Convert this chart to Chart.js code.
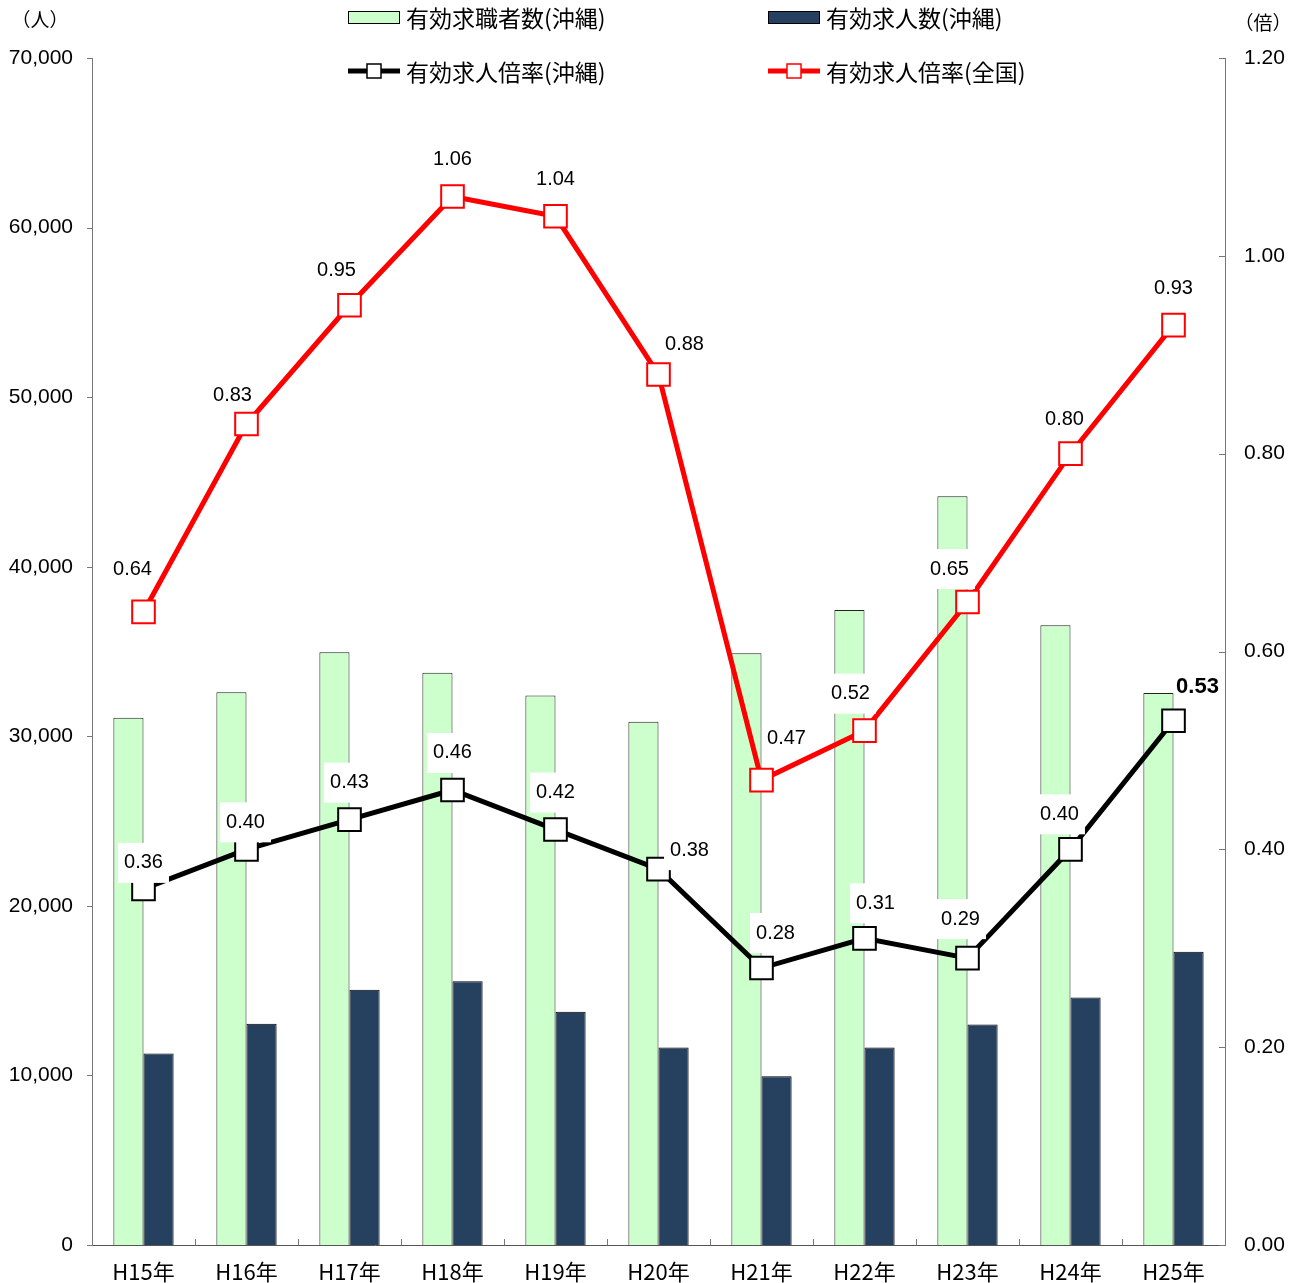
<!DOCTYPE html>
<html lang="ja">
<head>
    <meta charset="UTF-8">
    <title>有効求人倍率</title>
    <script src="https://cdn.jsdelivr.net/npm/chart.js"></script>
    <style>
        body { margin: 0; padding: 0; background: #fff; }
        #wrap { width: 1299px; height: 1283px; }
    </style>
</head>
<body>
    <div id="wrap"><canvas id="myChart" width="1299" height="1283"></canvas></div>

    <script>
        // data
        const years = ['H15年', 'H16年', 'H17年', 'H18年', 'H19年', 'H20年', 'H21年', 'H22年', 'H23年', 'H24年', 'H25年'];
        const seekers = [31100, 32600, 34950, 33750, 32400, 30850, 34900, 37450, 44150, 36550, 32550];   // 有効求職者数（沖縄）
        const offers = [11300, 13050, 15050, 15550, 13750, 11650, 9950, 11650, 13000, 14600, 17300];     // 有効求人数（沖縄）
        const ratioOkinawa = [0.36, 0.40, 0.43, 0.46, 0.42, 0.38, 0.28, 0.31, 0.29, 0.40, 0.53];
        const ratioNational = [0.64, 0.83, 0.95, 1.06, 1.04, 0.88, 0.47, 0.52, 0.65, 0.80, 0.93];
        const leftTicks = [0, 10000, 20000, 30000, 40000, 50000, 60000, 70000];
        const rightTicks = [0, 0.2, 0.4, 0.6, 0.8, 1.0, 1.2];

        // label offsets from each point (px) and whether the label sits on a white box
        const nationalOffsets = [[-11, -42], [-14, -29], [-13, -35], [0, -37], [0, -37], [26, -30], [25, -42], [-14, -37], [-18, -33], [-6, -34], [0, -37]];
        const nationalBoxed = [false, false, false, false, false, false, false, true, true, false, false];
        const okinawaOffsets = [[0, -26], [-1, -27], [0, -37], [0, -37], [0, -37], [31, -19], [14, -35], [11, -35], [-7, -39], [-11, -35], [24, -34]];
        const okinawaBoxed = [true, true, true, true, true, true, true, true, true, true, false];

        const NUM_FONT = '"Liberation Sans", Arial, sans-serif';
        const JP_FONT = '"Noto Sans CJK JP", sans-serif';
        const GREEN = '#ccffcc';
        const NAVY = '#264060';

        const labelsPlugin = {
            id: 'pointLabels',
            afterDatasetsDraw(chart) {
                const ctx = chart.ctx;
                ctx.save();
                ctx.textAlign = 'center';
                ctx.textBaseline = 'middle';
                const sets = [[2, ratioOkinawa, okinawaOffsets, okinawaBoxed], [3, ratioNational, nationalOffsets, nationalBoxed]];
                sets.forEach(([di, vals, offs, boxed]) => {
                    const meta = chart.getDatasetMeta(di);
                    meta.data.forEach((pt, i) => {
                        const x = pt.x + offs[i][0];
                        const y = pt.y + offs[i][1];
                        const bold = (di === 2 && i === vals.length - 1);
                        ctx.font = (bold ? 'bold 22px ' : '20px ') + NUM_FONT;
                        const txt = vals[i].toFixed(2);
                        const w = ctx.measureText(txt).width;
                        if (boxed[i]) {
                            ctx.fillStyle = '#fff';
                            ctx.fillRect(x - w / 2 - 6, y - 20, w + 12, 40);
                        }
                        ctx.fillStyle = '#000';
                        ctx.fillText(txt, x, y);
                    });
                });
                ctx.restore();
            }
        };

        const decorPlugin = {
            id: 'decor',
            afterDraw(chart) {
                const ctx = chart.ctx;
                const area = chart.chartArea;
                const yL = chart.scales.y;
                const yR = chart.scales.y1;
                ctx.save();
                // tick marks
                ctx.strokeStyle = '#777';
                ctx.lineWidth = 1;
                ctx.beginPath();
                leftTicks.forEach(v => {
                    const y = Math.round(yL.getPixelForValue(v)) + 0.5;
                    ctx.moveTo(area.left - 5, y);
                    ctx.lineTo(area.left, y);
                });
                rightTicks.forEach(v => {
                    const y = Math.round(yR.getPixelForValue(v)) + 0.5;
                    ctx.moveTo(area.right - 6, y);
                    ctx.lineTo(area.right, y);
                });
                const step = (area.right - area.left) / years.length;
                for (let i = 1; i < years.length; i++) {
                    const x = Math.round(area.left + step * i) + 0.5;
                    ctx.moveTo(x, area.bottom);
                    ctx.lineTo(x, area.bottom - 6);
                }
                ctx.stroke();

                // unit labels
                ctx.fillStyle = '#000';
                ctx.font = '19px ' + JP_FONT;
                ctx.textAlign = 'center';
                ctx.textBaseline = 'middle';
                ctx.fillText('（人）', 40, 20);
                ctx.fillText('（倍）', 1263, 23);

                // legend
                ctx.textAlign = 'left';
                ctx.font = '23px ' + JP_FONT;
                const items = [
                    { x: 348, y: 17, type: 'bar', color: GREEN, text: '有効求職者数(沖縄)' },
                    { x: 768, y: 17, type: 'bar', color: NAVY, text: '有効求人数(沖縄)' },
                    { x: 348, y: 71, type: 'line', color: '#000', text: '有効求人倍率(沖縄)' },
                    { x: 768, y: 71, type: 'line', color: '#ff0000', text: '有効求人倍率(全国)' }
                ];
                items.forEach(it => {
                    if (it.type === 'bar') {
                        ctx.fillStyle = it.color;
                        ctx.fillRect(it.x, it.y - 6, 52, 13);
                        ctx.strokeStyle = '#000';
                        ctx.lineWidth = 1;
                        ctx.strokeRect(it.x + 0.5, it.y - 5.5, 51, 12);
                    } else {
                        ctx.strokeStyle = it.color;
                        ctx.lineWidth = 5;
                        ctx.beginPath();
                        ctx.moveTo(it.x, it.y);
                        ctx.lineTo(it.x + 52, it.y);
                        ctx.stroke();
                        ctx.fillStyle = '#fff';
                        ctx.fillRect(it.x + 19, it.y - 7, 14, 14);
                        ctx.lineWidth = 1.5;
                        ctx.strokeRect(it.x + 19, it.y - 7, 14, 14);
                    }
                    ctx.fillStyle = '#000';
                    ctx.fillText(it.text, it.x + 58, it.y + 1);
                });
                ctx.restore();
            }
        };

        function build() {
            const ctx = document.getElementById('myChart').getContext('2d');
            new Chart(ctx, {
                data: {
                    labels: years,
                    datasets: [
                        {
                            type: 'bar',
                            label: '有効求職者数（沖縄）',
                            data: seekers,
                            backgroundColor: GREEN,
                            borderColor: '#222',
                            borderWidth: 1,
                            yAxisID: 'y',
                            order: 2,
                            barPercentage: 1,
                            categoryPercentage: 0.585
                        },
                        {
                            type: 'bar',
                            label: '有効求人数（沖縄）',
                            data: offers,
                            backgroundColor: NAVY,
                            borderColor: '#000',
                            borderWidth: 1,
                            yAxisID: 'y',
                            order: 2,
                            barPercentage: 1,
                            categoryPercentage: 0.585
                        },
                        {
                            type: 'line',
                            label: '有効求人倍率（沖縄）',
                            data: ratioOkinawa,
                            borderColor: '#000',
                            borderWidth: 5,
                            pointStyle: 'rect',
                            pointRadius: 16,
                            pointBackgroundColor: '#fff',
                            pointBorderColor: '#000',
                            pointBorderWidth: 2,
                            yAxisID: 'y1',
                            order: 1,
                            tension: 0
                        },
                        {
                            type: 'line',
                            label: '有効求人倍率（全国）',
                            data: ratioNational,
                            borderColor: '#ff0000',
                            borderWidth: 5,
                            pointStyle: 'rect',
                            pointRadius: 16,
                            pointBackgroundColor: '#fff',
                            pointBorderColor: '#ff0000',
                            pointBorderWidth: 2,
                            yAxisID: 'y1',
                            order: 0,
                            tension: 0
                        }
                    ]
                },
                options: {
                    responsive: false,
                    animation: false,
                    devicePixelRatio: 1,
                    layout: { padding: { top: 58, left: 0, right: 0, bottom: 0 } },
                    plugins: {
                        legend: { display: false },
                        tooltip: { enabled: false }
                    },
                    scales: {
                        x: {
                            grid: { display: false },
                            border: { display: true, color: '#555', width: 1 },
                            ticks: { color: '#000', font: { family: JP_FONT, size: 22 }, padding: 5, maxRotation: 0 },
                            afterFit(s) { s.height = 38; }
                        },
                        y: {
                            position: 'left',
                            min: 0,
                            max: 70000,
                            afterBuildTicks(s) { s.ticks = leftTicks.map(v => ({ value: v })); },
                            grid: { display: false, drawTicks: false },
                            border: { display: true, color: '#777', width: 1 },
                            ticks: {
                                color: '#000',
                                font: { family: NUM_FONT, size: 21 },
                                padding: 19,
                                callback: v => v.toLocaleString('en-US')
                            },
                            afterFit(s) { s.width = 92; }
                        },
                        y1: {
                            position: 'right',
                            min: 0,
                            max: 1.2,
                            afterBuildTicks(s) { s.ticks = rightTicks.map(v => ({ value: v })); },
                            grid: { display: false, drawTicks: false },
                            border: { display: true, color: '#777', width: 1 },
                            ticks: {
                                color: '#000',
                                font: { family: NUM_FONT, size: 21 },
                                padding: 19,
                                callback: v => v.toFixed(2)
                            },
                            afterFit(s) { s.width = 74; }
                        }
                    }
                },
                plugins: [labelsPlugin, decorPlugin]
            });
        }

        Promise.all([
            document.fonts.load('20px "Noto Sans CJK JP"', '有効求人年'),
            document.fonts.load('20px "Liberation Sans"'),
            document.fonts.load('bold 22px "Liberation Sans"')
        ]).then(build, build);
    </script>
</body>
</html>
